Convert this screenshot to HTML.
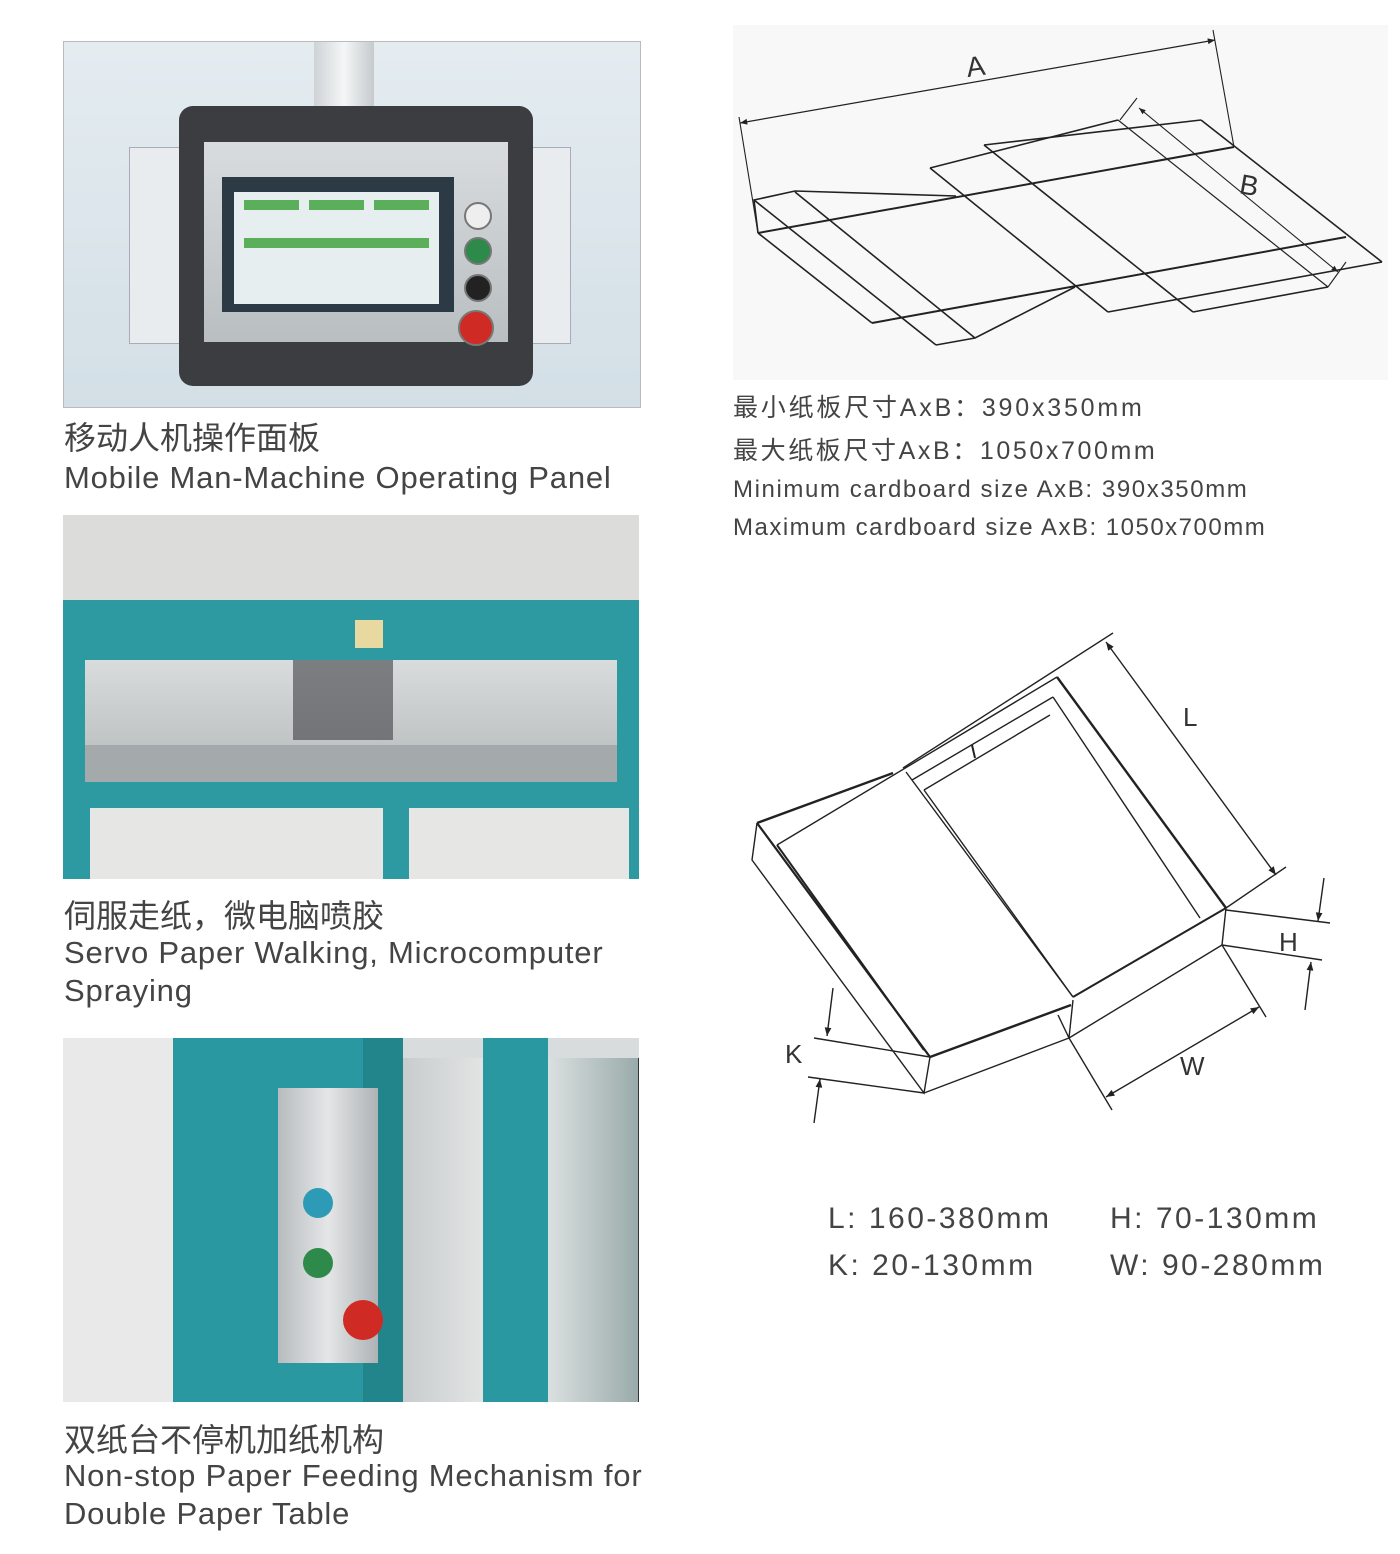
<!DOCTYPE html>
<html><head><meta charset="utf-8">
<style>
body{margin:0;width:1400px;height:1554px;background:#fff;position:relative;overflow:hidden;font-family:"Liberation Sans","Noto Sans CJK SC",sans-serif;color:#444}
.a{position:absolute}
.cap{position:absolute;left:64px;font-size:31px;line-height:38px;color:#444;white-space:nowrap;letter-spacing:0.8px}
.cn{font-size:32px;letter-spacing:0}
.r{position:absolute;left:733px;white-space:nowrap;color:#444}
</style></head><body>

<!-- Photo 1 -->
<div class="a" style="left:63px;top:41px;width:576px;height:365px;background:linear-gradient(#e4ecf0,#d3dfe6);border:1px solid #bbb;overflow:hidden">
  <div class="a" style="left:250px;top:0;width:60px;height:64px;background:linear-gradient(90deg,#cfd3d5,#f4f6f7,#c6cacc)"></div>
  <div class="a" style="left:65px;top:105px;width:50px;height:195px;background:#e9ecee;border:1px solid #aab"></div>
  <div class="a" style="left:455px;top:105px;width:50px;height:195px;background:#e9ecee;border:1px solid #aab"></div>
  <div class="a" style="left:115px;top:64px;width:354px;height:280px;background:#3b3d40;border-radius:14px"></div>
  <div class="a" style="left:140px;top:100px;width:304px;height:200px;background:linear-gradient(#d8dcde,#b9bec1)"></div>
  <div class="a" style="left:158px;top:135px;width:232px;height:135px;background:#2c3a46"></div>
  <div class="a" style="left:170px;top:150px;width:205px;height:112px;background:#e6eef0"></div>
  <div class="a" style="left:180px;top:158px;width:55px;height:10px;background:#5caf5a"></div>
  <div class="a" style="left:245px;top:158px;width:55px;height:10px;background:#5caf5a"></div>
  <div class="a" style="left:310px;top:158px;width:55px;height:10px;background:#5caf5a"></div>
  <div class="a" style="left:180px;top:196px;width:185px;height:10px;background:#5caf5a"></div>
  <div class="a" style="left:400px;top:160px;width:24px;height:24px;border-radius:50%;background:#eee;border:2px solid #777"></div>
  <div class="a" style="left:400px;top:195px;width:24px;height:24px;border-radius:50%;background:#2e8a4a;border:2px solid #777"></div>
  <div class="a" style="left:400px;top:232px;width:24px;height:24px;border-radius:50%;background:#222;border:2px solid #777"></div>
  <div class="a" style="left:394px;top:268px;width:32px;height:32px;border-radius:50%;background:#d02a25;border:2px solid #777"></div>
</div>
<div class="cap cn" style="top:419px">移动人机操作面板</div>
<div class="cap" style="top:459px">Mobile Man-Machine Operating Panel</div>

<!-- Photo 2 -->
<div class="a" style="left:63px;top:515px;width:576px;height:364px;background:#dcdcda;overflow:hidden">
  <div class="a" style="left:0;top:85px;width:576px;height:279px;background:#2d9aa1"></div>
  <div class="a" style="left:292px;top:105px;width:28px;height:28px;background:#e8d9a0"></div>
  <div class="a" style="left:22px;top:145px;width:532px;height:122px;background:linear-gradient(#d9dcdc,#b4b9ba)"></div>
  <div class="a" style="left:22px;top:230px;width:532px;height:37px;background:#a4aaab"></div>
  <div class="a" style="left:230px;top:145px;width:100px;height:80px;background:#3d3f42;opacity:.6"></div>
  <div class="a" style="left:27px;top:293px;width:293px;height:71px;background:#e6e6e4"></div>
  <div class="a" style="left:346px;top:293px;width:220px;height:71px;background:#e6e6e4"></div>
</div>
<div class="cap cn" style="top:897px">伺服走纸，微电脑喷胶</div>
<div class="cap" style="top:934px">Servo Paper Walking, Microcomputer</div>
<div class="cap" style="top:972px">Spraying</div>

<!-- Photo 3 -->
<div class="a" style="left:63px;top:1038px;width:576px;height:364px;background:#d9dcdc;overflow:hidden">
  <div class="a" style="left:0;top:0;width:300px;height:364px;background:#e8e9e8"></div>
  <div class="a" style="left:110px;top:0;width:190px;height:364px;background:#2a98a0"></div>
  <div class="a" style="left:300px;top:0;width:40px;height:364px;background:#23858c"></div>
  <div class="a" style="left:340px;top:20px;width:236px;height:344px;background:linear-gradient(90deg,#c8cccc,#eef0ef,#9aa)"></div>
  <div class="a" style="left:420px;top:0;width:65px;height:364px;background:#2a98a0"></div>
  <div class="a" style="left:215px;top:50px;width:100px;height:275px;background:linear-gradient(90deg,#b8bcbe,#e4e6e7,#aeb2b4)"></div>
  <div class="a" style="left:240px;top:150px;width:30px;height:30px;border-radius:50%;background:#2e9bb6"></div>
  <div class="a" style="left:240px;top:210px;width:30px;height:30px;border-radius:50%;background:#2e8a4a"></div>
  <div class="a" style="left:280px;top:262px;width:40px;height:40px;border-radius:50%;background:#d02a25"></div>
  <div class="a" style="left:575px;top:20px;width:10px;height:344px;background:#333"></div>
</div>
<div class="cap cn" style="top:1421px">双纸台不停机加纸机构</div>
<div class="cap" style="top:1457px">Non-stop Paper Feeding Mechanism for</div>
<div class="cap" style="top:1495px">Double Paper Table</div>

<!-- Diagram 1 -->
<div class="a" style="left:733px;top:25px;width:655px;height:355px;background:#f8f8f8"></div>
<svg class="a" style="left:0;top:0" width="1400" height="1554">
<defs><marker id="m" viewBox="0 0 10 10" refX="10" refY="5" markerWidth="9" markerHeight="6" orient="auto-start-reverse"><path d="M0,1L10,5L0,9z" fill="#222"/></marker></defs>
<g stroke="#222" stroke-width="1.6" fill="none">
<line x1="740" y1="123" x2="1215" y2="40" marker-start="url(#m)" marker-end="url(#m)" stroke-width="1.2"/>
<line x1="739" y1="117" x2="758" y2="233" stroke-width="1.1"/>
<line x1="1213" y1="30" x2="1234" y2="147" stroke-width="1.1"/>
<polyline points="758,233 754,200 795,191 956,196"/>
<line x1="758" y1="233" x2="1234" y2="147" stroke-width="2"/>
<line x1="872" y1="323" x2="1346" y2="237" stroke-width="2"/>
<line x1="1108" y1="312" x2="1382" y2="262"/>
<line x1="1193" y1="312" x2="1328" y2="287"/>
<line x1="754" y1="200" x2="936" y2="345"/>
<line x1="795" y1="192" x2="975" y2="338"/>
<line x1="758" y1="233" x2="872" y2="323"/>
<polyline points="936,345 975,338 1075,287"/>
<line x1="930" y1="168" x2="1118" y2="120"/>
<line x1="984" y1="145" x2="1201" y2="120"/>
<line x1="930" y1="168" x2="1108" y2="312"/>
<line x1="984" y1="145" x2="1193" y2="312"/>
<line x1="1118" y1="120" x2="1328" y2="287" stroke-width="1.2"/>
<line x1="1201" y1="120" x2="1382" y2="262"/>
<line x1="1120" y1="120" x2="1137" y2="98" stroke-width="1.1"/>
<line x1="1139" y1="108" x2="1338" y2="272" marker-start="url(#m)" marker-end="url(#m)" stroke-width="1.1"/>
<line x1="1328" y1="287" x2="1346" y2="262" stroke-width="1.1"/>
</g>
<text x="966" y="76" font-family="Liberation Sans" font-size="28" fill="#333" transform="rotate(-8 975 65)">A</text>
<text x="1240" y="195" font-family="Liberation Sans" font-size="28" fill="#333" transform="rotate(10 1250 185)">B</text>

<!-- Diagram 2 -->
<g stroke="#222" stroke-width="1.4" fill="none">
<polyline points="757,823 752,860 924,1093 930,1057"/>
<line x1="757" y1="823" x2="930" y2="1057" stroke-width="2.2"/>
<line x1="777" y1="845" x2="924" y2="1050" stroke-width="2"/>
<line x1="757" y1="823" x2="893" y2="773" stroke-width="2.4"/>
<line x1="777" y1="845" x2="1057" y2="677"/>
<line x1="903" y1="768" x2="1113" y2="633"/>
<line x1="1057" y1="677" x2="1226" y2="908" stroke-width="2.4"/>
<line x1="1053" y1="697" x2="1200" y2="918"/>
<line x1="924" y1="790" x2="1050" y2="715"/>
<line x1="924" y1="790" x2="1073" y2="997"/>
<line x1="906" y1="772" x2="1073" y2="997"/>
<line x1="912" y1="780" x2="1053" y2="697"/>
<line x1="1073" y1="997" x2="1226" y2="908" stroke-width="2"/>
<line x1="1069" y1="1038" x2="1222" y2="945"/>
<line x1="1222" y1="945" x2="1226" y2="908"/>
<line x1="1069" y1="1038" x2="1073" y2="1000"/>
<line x1="930" y1="1057" x2="1071" y2="1005" stroke-width="2.4"/>
<line x1="924" y1="1093" x2="1069" y2="1038"/>
<line x1="1058" y1="1015" x2="1069" y2="1038"/>
<line x1="1106" y1="642" x2="1276" y2="875" marker-start="url(#m)" marker-end="url(#m)"/>
<line x1="1226" y1="908" x2="1286" y2="867"/>
<line x1="1226" y1="910" x2="1330" y2="923"/>
<line x1="1222" y1="945" x2="1322" y2="960"/>
<line x1="1324" y1="878" x2="1318" y2="921" marker-end="url(#m)"/>
<line x1="1305" y1="1010" x2="1311" y2="962" marker-end="url(#m)"/>
<line x1="1222" y1="945" x2="1266" y2="1017"/>
<line x1="1069" y1="1038" x2="1112" y2="1110"/>
<line x1="1106" y1="1097" x2="1259" y2="1007" marker-start="url(#m)" marker-end="url(#m)"/>
<line x1="814" y1="1038" x2="930" y2="1057"/>
<line x1="808" y1="1077" x2="924" y2="1093"/>
<line x1="833" y1="988" x2="827" y2="1036" marker-end="url(#m)"/>
<line x1="814" y1="1123" x2="820" y2="1079" marker-end="url(#m)"/>
<line x1="972" y1="745" x2="975" y2="758" stroke-width="2"/>
</g>
<text x="1183" y="726" font-family="Liberation Sans" font-size="26" fill="#333">L</text>
<text x="1279" y="951" font-family="Liberation Sans" font-size="26" fill="#333">H</text>
<text x="1180" y="1075" font-family="Liberation Sans" font-size="26" fill="#333">W</text>
<text x="785" y="1063" font-family="Liberation Sans" font-size="26" fill="#333">K</text>
</svg>

<div class="r" style="top:388px;font-size:25px;letter-spacing:2.8px">最小纸板尺寸AxB：390x350mm</div>
<div class="r" style="top:431px;font-size:25px;letter-spacing:2.6px">最大纸板尺寸AxB：1050x700mm</div>
<div class="r" style="top:476px;font-size:24px;letter-spacing:1.6px">Minimum cardboard size AxB: 390x350mm</div>
<div class="r" style="top:514px;font-size:24px;letter-spacing:1.5px">Maximum cardboard size AxB: 1050x700mm</div>

<div class="a" style="left:828px;top:1202px;font-size:30px;white-space:nowrap;letter-spacing:2.5px">L: 160-380mm</div>
<div class="a" style="left:1110px;top:1202px;font-size:30px;white-space:nowrap;letter-spacing:2.5px">H: 70-130mm</div>
<div class="a" style="left:828px;top:1249px;font-size:30px;white-space:nowrap;letter-spacing:2.5px">K: 20-130mm</div>
<div class="a" style="left:1110px;top:1249px;font-size:30px;white-space:nowrap;letter-spacing:2.5px">W: 90-280mm</div>
</body></html>
